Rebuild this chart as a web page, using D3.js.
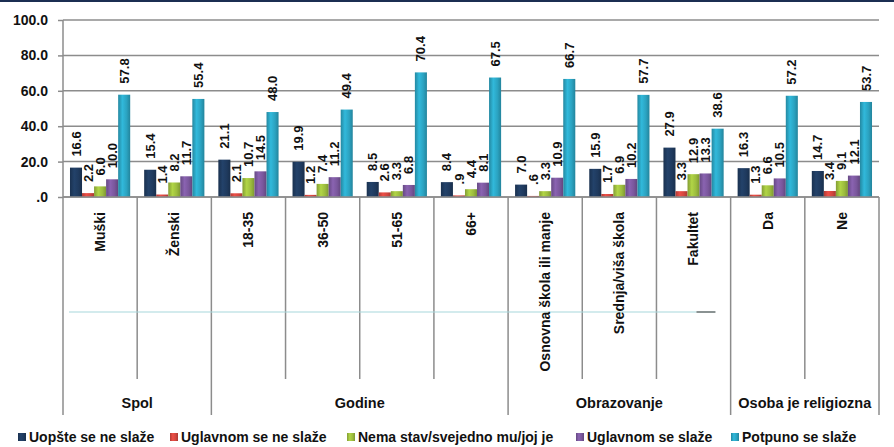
<!DOCTYPE html>
<html><head><meta charset="utf-8">
<script src="https://cdn.jsdelivr.net/npm/d3@7"></script>
<style>
html,body{margin:0;padding:0;background:#fff;}
svg{display:block;font-family:"Liberation Sans",Arial,sans-serif;font-weight:bold;}
</style></head>
<body><svg id="c" width="894" height="447"></svg>
<script>
const categories = ["Muški","Ženski","18-35","36-50","51-65","66+","Osnovna škola ili manje","Srednja/viša škola","Fakultet","Da","Ne"];
const groups = ["Spol","Godine","Obrazovanje","Osoba je religiozna"];
const groupSizes = [2,4,3,2];
const seriesNames = ["Uopšte se ne slaže","Uglavnom se ne slaže","Nema stav/svejedno mu/joj je","Uglavnom se slaže","Potpuno se slaže"];
const s1 = [16.6,15.4,21.1,19.9,8.5,8.4,7.0,15.9,27.9,16.3,14.7];
const s2 = [2.2,1.4,2.1,1.2,2.6,0.9,0.6,1.7,3.3,1.3,3.4];
const s3 = [6.0,8.2,10.7,7.4,3.3,4.4,3.3,6.9,12.9,6.6,9.1];
const s4 = [10.0,11.7,14.5,11.2,6.8,8.1,10.9,10.2,13.3,10.5,12.1];
const s5 = [57.8,55.4,48.0,49.4,70.4,67.5,66.7,57.7,38.6,57.2,53.7];
const yTicks = [0,20,40,60,80,100];
const colors = ["#1f3a5e","#d2463f","#9cbc3e","#7a579c","#2ba3c1"];
const series = [s1,s2,s3,s4,s5];

const svg = d3.select("#c");
const L = 63, R = 879, T = 20, B = 197;
const sepBottom = 379, groupBottom = 415;

const fmt = v => d3.format(".1f")(v).replace(/^0\./, ".");

const x0 = d3.scaleBand().domain(categories).range([L, R]).padding(0);
const x1 = d3.scaleBand().domain(d3.range(5)).range([0, x0.bandwidth()]).paddingOuter(0.58).paddingInner(0);
const y = d3.scaleLinear().domain([0,100]).range([B, T]);

svg.append("rect").attr("x",0).attr("y",0).attr("width",894).attr("height",2).attr("fill","#1b2e52");

const defs = svg.append("defs");
colors.forEach((c,i)=>{
  const g = defs.append("linearGradient").attr("id","g"+i).attr("x1","0").attr("x2","1").attr("y1","0").attr("y2","0");
  const base = d3.color(c);
  g.append("stop").attr("offset","0%").attr("stop-color", base.darker(0.5));
  g.append("stop").attr("offset","35%").attr("stop-color", base.brighter(0.35));
  g.append("stop").attr("offset","70%").attr("stop-color", base);
  g.append("stop").attr("offset","100%").attr("stop-color", base.darker(0.6));
});

const yAxis = d3.axisLeft(y).tickValues(yTicks).tickFormat(fmt).tickSize(5).tickPadding(10);
const gy = svg.append("g").attr("transform",`translate(${L},0)`).call(yAxis);
gy.select(".domain").remove();
gy.selectAll(".tick line").attr("stroke","#8c8c8c").attr("stroke-width",1.5);
gy.selectAll(".tick text").attr("font-size",14).attr("fill","#111").attr("font-family","Liberation Sans, Arial, sans-serif").attr("font-weight","bold");
svg.append("g").selectAll("line").data(yTicks).join("line")
  .attr("x1",L).attr("x2",R).attr("y1",d=>y(d)).attr("y2",d=>y(d))
  .attr("stroke","#8c8c8c").attr("stroke-width",1.5);

const bounds = categories.map((c,i)=>x0(c));
let groupStarts = [0]; groupSizes.reduce((a,s)=>{groupStarts.push(a+s); return a+s;},0);
const groupIdx = new Set(groupStarts);
for (let i=1;i<categories.length;i++){
  if (!groupIdx.has(i)) {
    svg.append("line").attr("x1",bounds[i]).attr("x2",bounds[i]).attr("y1",B).attr("y2",sepBottom).attr("stroke","#8c8c8c").attr("stroke-width",1.5);
  }
}
groupStarts.forEach(gi=>{
  const xx = gi<categories.length ? x0(categories[gi]) : R;
  svg.append("line").attr("x1",xx).attr("x2",xx).attr("y1", gi===0?T:B).attr("y2",groupBottom).attr("stroke","#8c8c8c").attr("stroke-width",1.5);
});

svg.append("line").attr("x1",L+6).attr("x2",x0("Fakultet")+40).attr("y1",312).attr("y2",312).attr("stroke","#a8d8dc").attr("stroke-width",1.2);
svg.append("line").attr("x1",x0("Fakultet")+40).attr("x2",x0("Fakultet")+59).attr("y1",312).attr("y2",312).attr("stroke","#3d4a4a").attr("stroke-width",1.2);

const gBars = svg.append("g");
series.forEach((vals,si)=>{
  gBars.selectAll(null).data(vals).join("rect")
    .attr("x",(d,i)=>x0(categories[i])+x1(si))
    .attr("y",d=>y(d))
    .attr("width",x1.bandwidth())
    .attr("height",d=>B-y(d))
    .attr("fill","url(#g"+si+")");
});
svg.append("line").attr("x1",L).attr("x2",R).attr("y1",B).attr("y2",B).attr("stroke","#8c8c8c").attr("stroke-width",1.5);

series.forEach((vals,si)=>{
  svg.append("g").selectAll("text").data(vals).join("text")
    .attr("transform",(d,i)=>{
      const cx = x0(categories[i])+x1(si)+x1.bandwidth()/2;
      return `translate(${cx},${y(d)-11}) rotate(-90)`;
    })
    .attr("dy","0.35em")
    .attr("font-size",13).attr("fill","#111")
    .text(d=>fmt(d));
});

svg.append("g").selectAll("text").data(categories).join("text")
  .attr("transform",d=>`translate(${x0(d)+x0.bandwidth()/2},212) rotate(-90)`)
  .attr("text-anchor","end").attr("dy","0.35em")
  .attr("font-size",14).attr("fill","#111")
  .text(d=>d);

groups.forEach((g,gi)=>{
  const a = x0(categories[groupStarts[gi]]);
  const b = groupStarts[gi+1]<categories.length ? x0(categories[groupStarts[gi+1]]) : R;
  svg.append("text").attr("x",(a+b)/2).attr("y",408).attr("text-anchor","middle")
    .attr("font-size",14.5).attr("fill","#111").text(g);
});

const legX = [18,170,347,576,731];
seriesNames.forEach((n,i)=>{
  svg.append("rect").attr("x",legX[i]).attr("y",433).attr("width",8).attr("height",8).attr("fill","url(#g"+i+")");
  svg.append("text").attr("x",legX[i]+11).attr("y",442).attr("font-size",14).attr("fill","#111").text(n);
});
</script></body></html>
